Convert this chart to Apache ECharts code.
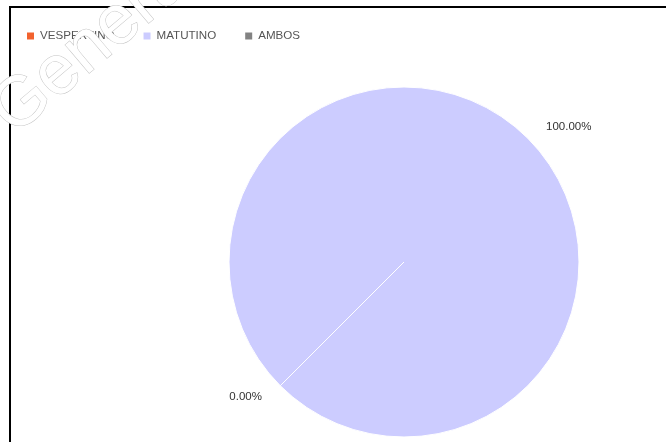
<!DOCTYPE html>
<html>
<head>
<meta charset="utf-8">
<script src="https://cdn.jsdelivr.net/npm/echarts@6/dist/echarts.min.js"></script>
<style>
html,body{margin:0;padding:0;background:#fff;}
#chart{width:666px;height:442px;}
</style>
</head>
<body>
<div id="chart"></div>
<script>
var categories = ['VESPERTINO', 'MATUTINO', 'AMBOS'];
var values = [0, 100, 0];
var colors = ['#f2622e', '#ccccff', '#828282'];

var chart = echarts.init(document.getElementById('chart'), null, {renderer: 'canvas'});
var data = categories.map(function (c, i) {
  return {name: c, value: values[i], itemStyle: {color: colors[i]}};
});
chart.setOption({
  animation: false,
  backgroundColor: '#ffffff',
  legend: {
    left: 22,
    top: 25,
    orient: 'horizontal',
    icon: 'rect',
    itemWidth: 7,
    itemHeight: 7,
    itemGap: 29,
    itemStyle: {borderWidth: 0},
    textStyle: {fontFamily: 'Liberation Sans, Arial, sans-serif', fontSize: 11.6, color: '#555555', padding: [0, 0, 0, 1]},
    data: categories
  },
  graphic: [
    {
      type: 'rect',
      shape: {x: 10, y: 7, width: 800, height: 600},
      style: {fill: 'none', stroke: '#000', lineWidth: 2},
      z: 100
    },
    {
      type: 'text',
      x: -21, y: 95,
      rotation: 0.7,
      style: {
        text: 'Generated',
        font: '70px Liberation Sans, Arial, sans-serif',
        fill: '#ffffff',
        stroke: '#c4c4c4',
        lineWidth: 1
      },
      z: 110
    }
  ],
  series: [{
    type: 'pie',
    center: [404, 262],
    radius: 175,
    startAngle: 225,
    clockwise: true,
    avoidLabelOverlap: false,
    stillShowZeroSum: true,
    itemStyle: {borderColor: '#ffffff', borderWidth: 1},
    label: {
      show: true,
      position: 'outside',
      fontFamily: 'Liberation Sans, Arial, sans-serif',
      fontSize: 11.5,
      color: '#333333',
      formatter: function (p) { return p.percent.toFixed(2) + '%'; }
    },
    labelLine: {show: false, length: 16, length2: 2},
    emphasis: {disabled: true},
    data: data
  }]
});
</script>
</body>
</html>
